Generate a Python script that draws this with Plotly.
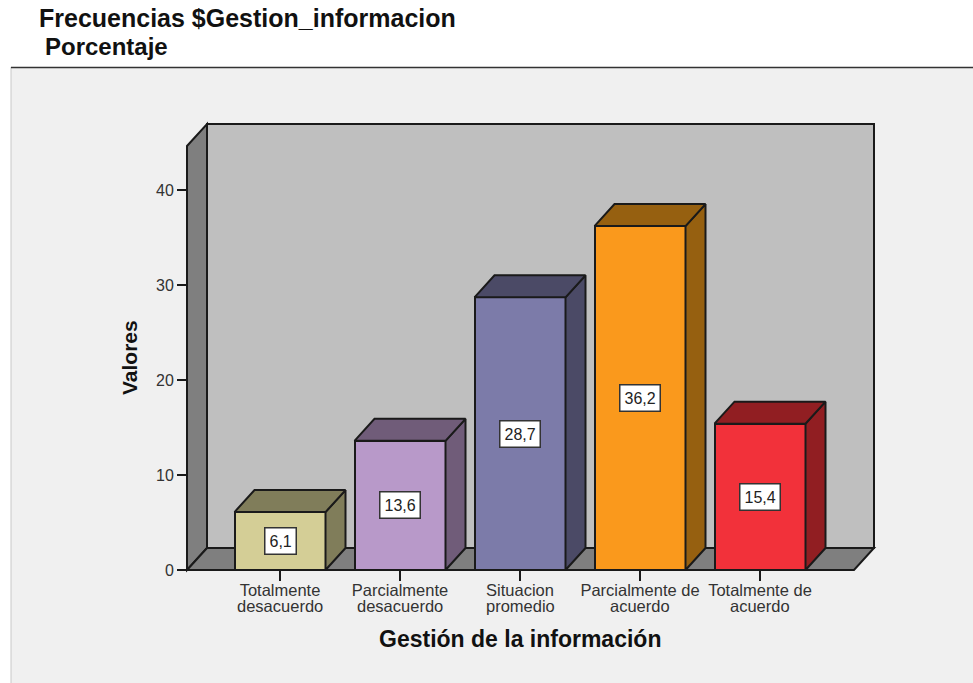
import plotly.graph_objects as go

# ---- data ----
line1 = ["Totalmente", "Parcialmente", "Situacion", "Parcialmente de", "Totalmente de"]
line2 = ["desacuerdo", "desacuerdo", "promedio", "acuerdo", "acuerdo"]
values = [6.1, 13.6, 28.7, 36.2, 15.4]
value_labels = ["6,1", "13,6", "28,7", "36,2", "15,4"]
front_colors = ["#d4ce96", "#b899c9", "#7c7ba9", "#fa991c", "#f2313a"]
shade_colors = ["#807d5a", "#705c79", "#4b4a66", "#966010", "#911e22"]
y_ticks = [0, 10, 20, 30, 40]

# ---- geometry of the pseudo 3-D frame ----
W, H = 973, 683
PL, PR, PT, PB = 170, 880, 120, 580      # plot region in pixels
X0_PX, STEP_PX = 280, 120                # centre of first category, category step
Y0_PX, UNIT_PX = 570, 9.5                # pixel of value 0, pixels per unit
BAR_W = 91 / STEP_PX
DX, DY = 20 / STEP_PX, 22 / UNIT_PX      # depth offset in data units
WALL_L, WALL_R = (187 - X0_PX) / STEP_PX, (854 - X0_PX) / STEP_PX
WALL_TOP = (Y0_PX - 146) / UNIT_PX
INK = "#1a1a1a"
FONT = "Liberation Sans"


def px(p):
    return (p - PL) / (PR - PL)


def py(p):
    return (PB - p) / (PB - PT)


def poly(points):
    return "M" + " L".join(f"{a},{b}" for a, b in points) + " Z"


shapes = [
    # panel
    dict(type="rect", xref="paper", yref="paper", x0=px(11), x1=px(973), y0=py(683), y1=py(67),
         fillcolor="#f0f0f0", line=dict(width=0), layer="below"),
    dict(type="line", xref="paper", yref="paper", x0=px(11), x1=px(11), y0=py(683), y1=py(67),
         line=dict(color="#c8c8c8", width=1), layer="below"),
    dict(type="line", xref="paper", yref="paper", x0=px(11), x1=px(973), y0=py(67.5), y1=py(67.5),
         line=dict(color="#333333", width=1.5), layer="below"),
    # back wall
    dict(type="path", path=poly([(WALL_L + DX, DY), (WALL_R + DX, DY), (WALL_R + DX, WALL_TOP + DY), (WALL_L + DX, WALL_TOP + DY)]),
         fillcolor="#bfbfbf", line=dict(color=INK, width=2), layer="below"),
    # left wall
    dict(type="path", path=poly([(WALL_L, 0), (WALL_L + DX, DY), (WALL_L + DX, WALL_TOP + DY), (WALL_L, WALL_TOP)]),
         fillcolor="#7f7f7f", line=dict(color=INK, width=2), layer="below"),
    # floor
    dict(type="path", path=poly([(WALL_L, 0), (WALL_R, 0), (WALL_R + DX, DY), (WALL_L + DX, DY)]),
         fillcolor="#7f7f7f", line=dict(color=INK, width=2), layer="below"),
]

fig = go.Figure()

# front faces
fig.add_trace(go.Bar(
    x=list(range(len(values))), y=values, width=BAR_W,
    marker=dict(color=front_colors, line=dict(color=INK, width=2)),
    showlegend=False, hoverinfo="y",
))

# side and top faces derived from the values
for i, (v, c) in enumerate(zip(values, shade_colors)):
    l, r = i - BAR_W / 2, i + BAR_W / 2
    fig.add_trace(go.Scatter(
        x=[r, r + DX, r + DX, r, r], y=[0, DY, v + DY, v, 0],
        mode="lines", fill="toself", fillcolor=c, line=dict(color=INK, width=2),
        showlegend=False, hoverinfo="skip",
    ))
    fig.add_trace(go.Scatter(
        x=[l, r, r + DX, l + DX, l], y=[v, v, v + DY, v + DY, v],
        mode="lines", fill="toself", fillcolor=c, line=dict(color=INK, width=2),
        showlegend=False, hoverinfo="skip",
    ))

annotations = []
# value boxes
for i, (v, t) in enumerate(zip(values, value_labels)):
    annotations.append(dict(
        x=i, y=v / 2, xref="x", yref="y", text=t, showarrow=False,
        font=dict(family=FONT, size=16, color="#222222"),
        bgcolor="white", bordercolor="#333333", borderwidth=1.5, borderpad=4,
    ))
# second line of category labels (tighter leading than <br> allows)
for i, t in enumerate(line2):
    annotations.append(dict(
        x=i, y=py(606), xref="x", yref="paper", text=t, showarrow=False,
        xanchor="center", yanchor="middle",
        font=dict(family=FONT, size=16.5, color="#333333"),
    ))
# second title line and axis titles
annotations += [
    dict(x=px(43), y=py(46), xref="paper", yref="paper", text="<b>Porcentaje</b>", showarrow=False,
         xanchor="left", yanchor="middle", font=dict(family=FONT, size=24, color="#111111"),
         ),
    dict(x=px(129), y=py(358), xref="paper", yref="paper", text="<b>Valores</b>", showarrow=False,
         textangle=-90, xanchor="center", yanchor="middle",
         font=dict(family=FONT, size=21, color="#111111")),
    dict(x=px(520), y=py(639), xref="paper", yref="paper", text="<b>Gestión de la información</b>", showarrow=False,
         xanchor="center", yanchor="middle",
         font=dict(family=FONT, size=23, color="#111111")),
]

fig.update_layout(
    width=W, height=H, autosize=False,
    margin=dict(l=PL, r=W - PR, t=PT, b=H - PB, pad=0),
    paper_bgcolor="white", plot_bgcolor="rgba(0,0,0,0)",
    title=dict(text="<b>Frecuencias $Gestion_informacion</b>", x=39 / W, xanchor="left",
               y=1 - 18 / H, yanchor="middle", font=dict(family=FONT, size=25, color="#111111")),
    bargap=0, showlegend=False, shapes=shapes, annotations=annotations,
    xaxis=dict(
        range=[(PL - X0_PX) / STEP_PX, (PR - X0_PX) / STEP_PX],
        tickmode="array", tickvals=list(range(len(values))), ticktext=line1,
        ticks="outside", ticklen=10, tickwidth=2, tickcolor=INK,
        tickfont=dict(family=FONT, size=16.5, color="#333333"), tickangle=0,
        ticklabelstandoff=-5,
        showgrid=False, zeroline=False, showline=False,
        anchor="free", position=py(Y0_PX), automargin=False, fixedrange=True,
    ),
    yaxis=dict(
        range=[(Y0_PX - PB) / UNIT_PX, (Y0_PX - PT) / UNIT_PX],
        tickmode="array", tickvals=y_ticks,
        ticks="outside", ticklen=10, tickwidth=2, tickcolor=INK,
        tickfont=dict(family=FONT, size=16, color="#333333"),
        showgrid=False, zeroline=False, showline=False,
        anchor="free", position=px(187), automargin=False, fixedrange=True,
    ),
)

fig.write_html(
    "out.html",
    config={"displayModeBar": False},
    post_script="document.documentElement.style.overflow='hidden';document.body.style.margin='0';window.dispatchEvent(new Event('resize'));",
)
